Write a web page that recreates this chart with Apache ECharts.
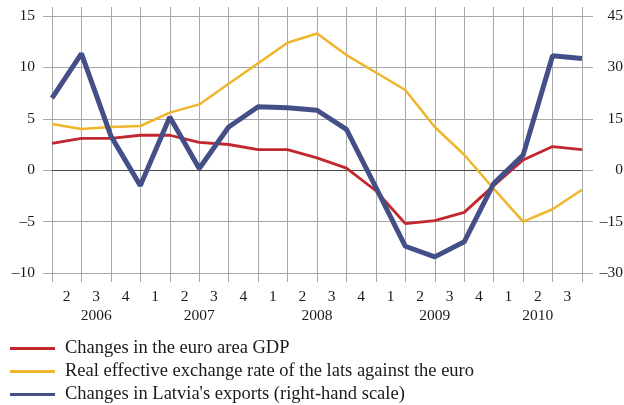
<!DOCTYPE html>
<html>
<head>
<meta charset="utf-8">
<script src="https://cdn.jsdelivr.net/npm/echarts@6/dist/echarts.min.js"></script>
<style>
  html, body { margin: 0; padding: 0; background: #fff; }
  #chart { width: 624px; height: 405px; }
</style>
</head>
<body>
<div id="chart"></div>
<script>
// quarters 2006 Q1 .. 2010 Q3 (points sit on the grid lines)
const quarters = ['2006Q1', '2006Q2', '2006Q3', '2006Q4', '2007Q1', '2007Q2', '2007Q3', '2007Q4',
  '2008Q1', '2008Q2', '2008Q3', '2008Q4', '2009Q1', '2009Q2', '2009Q3', '2009Q4',
  '2010Q1', '2010Q2', '2010Q3']
// labels written between the grid lines
const quarterLabels = ['2', '3', '4', '1', '2', '3', '4', '1', '2', '3', '4', '1', '2', '3', '4', '1', '2', '3']
const yearLabels = ['2006', '2007', '2008', '2009', '2010']
const yearCenters = [1.5, 5, 9, 13, 16.5]

const euroGdp = [2.6, 3.1, 3.1, 3.4, 3.4, 2.7, 2.5, 2.0, 2.0, 1.2, 0.2, -2.0, -5.2, -4.9, -4.1, -1.5, 1.0, 2.3, 2.0]
const exchangeRate = [4.5, 4.0, 4.2, 4.3, 5.6, 6.4, 8.4, 10.4, 12.4, 13.3, 11.2, 9.5, 7.8, 4.2, 1.5, -1.8, -5.0, -3.8, -1.9]
const latviaExports = [21, 34, 10, -4.5, 15.5, 0.5, 12.6, 18.5, 18.2, 17.5, 11.9, -5, -22.2, -25.3, -20.9, -3.9, 4.4, 33.4, 32.6]

const seriesNames = [
  'Changes in the euro area GDP',
  'Real effective exchange rate of the lats against the euro',
  "Changes in Latvia's exports (right-hand scale)"
]

const fontFamily = '"Liberation Serif", "DejaVu Serif", serif'
const gridColor = '#a8a8a8'
const dash = v => String(v).replace('-', '\u2013')

let myChart = echarts.init(document.getElementById('chart'), null, { renderer: 'canvas' })
myChart.setOption({
  animation: false,
  textStyle: { fontFamily: fontFamily },
  grid: {
    left: 52,
    right: 42,
    top: 16,
    bottom: 132,
    outerBoundsMode: 'none'
  },
  legend: {
    orient: 'vertical',
    left: 10,
    top: 339,
    padding: 0,
    icon: 'rect',
    itemWidth: 45,
    itemHeight: 3,
    itemGap: 4,
    selectedMode: false,
    textStyle: {
      fontFamily: fontFamily,
      fontSize: 18.5,
      color: '#1a1a1a',
      lineHeight: 19,
      padding: [0, 0, 0, 5]
    },
    data: seriesNames
  },
  xAxis: [
    {
      // grid lines + ticks below
      type: 'category',
      data: quarters,
      boundaryGap: false,
      position: 'bottom',
      axisLine: { show: false, onZero: false },
      axisTick: { show: true, length: 9, interval: 0, lineStyle: { color: gridColor } },
      axisLabel: { show: false },
      splitLine: { show: true, interval: 0, lineStyle: { color: gridColor, width: 1 } }
    },
    {
      // ticks above the plot
      type: 'category',
      data: quarters,
      boundaryGap: false,
      position: 'top',
      axisLine: { show: false, onZero: false },
      axisTick: { show: true, length: 9, interval: 0, lineStyle: { color: gridColor } },
      axisLabel: { show: false },
      splitLine: { show: false }
    },
    {
      // quarter numbers
      type: 'category',
      data: quarterLabels,
      boundaryGap: true,
      position: 'bottom',
      axisLine: { show: false, onZero: false },
      axisTick: { show: false },
      axisLabel: { interval: 0, margin: 16, fontSize: 15.5, color: '#1a1a1a' },
      splitLine: { show: false }
    },
    {
      // years
      type: 'value',
      min: 0,
      max: 18,
      position: 'bottom',
      axisLine: { show: false, onZero: false },
      axisTick: { show: false },
      axisLabel: {
        customValues: yearCenters,
        margin: 35,
        fontSize: 15.5,
        color: '#1a1a1a',
        formatter: v => yearLabels[yearCenters.indexOf(v)]
      },
      splitLine: { show: false }
    },
    {
      // zero line
      type: 'category',
      data: quarters,
      boundaryGap: false,
      position: 'bottom',
      axisLine: { show: true, onZero: true, onZeroAxisIndex: 0, lineStyle: { color: '#4a4a4a', width: 1 } },
      axisTick: { show: false },
      axisLabel: { show: false },
      splitLine: { show: false }
    }
  ],
  yAxis: [
    {
      type: 'value',
      min: -10,
      max: 15,
      interval: 5,
      position: 'left',
      axisLine: { show: false, onZero: false },
      axisTick: { show: true, length: 9, lineStyle: { color: gridColor } },
      axisLabel: { margin: 17, fontSize: 15.5, color: '#1a1a1a', formatter: dash },
      splitLine: { show: true, lineStyle: { color: gridColor, width: 1 } }
    },
    {
      type: 'value',
      min: -30,
      max: 45,
      interval: 15,
      position: 'right',
      axisLine: { show: false, onZero: false },
      axisTick: { show: true, length: 11, lineStyle: { color: gridColor } },
      axisLabel: { margin: 41, align: 'right', fontSize: 15.5, color: '#1a1a1a', formatter: dash },
      splitLine: { show: false }
    }
  ],
  series: [
    {
      name: seriesNames[0],
      type: 'line',
      data: euroGdp,
      xAxisIndex: 0,
      yAxisIndex: 0,
      symbol: 'none',
      itemStyle: { color: '#c1272d' },
      lineStyle: { color: '#c1272d', width: 2.8 }
    },
    {
      name: seriesNames[1],
      type: 'line',
      data: exchangeRate,
      xAxisIndex: 0,
      yAxisIndex: 0,
      symbol: 'none',
      itemStyle: { color: '#efb52b' },
      lineStyle: { color: '#efb52b', width: 2.5 }
    },
    {
      name: seriesNames[2],
      type: 'line',
      data: latviaExports,
      xAxisIndex: 0,
      yAxisIndex: 1,
      symbol: 'none',
      itemStyle: { color: '#454f87' },
      lineStyle: { color: '#454f87', width: 5 }
    }
  ]
})
myChart.resize()
</script>
</body>
</html>
